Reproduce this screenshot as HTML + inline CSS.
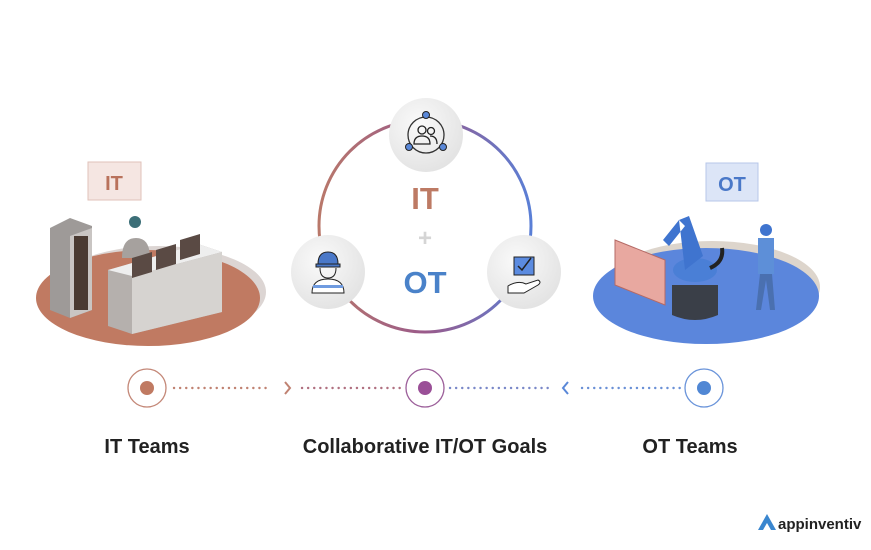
<!DOCTYPE html>
<html><head><meta charset="utf-8"><style>body{margin:0;background:#fff}svg{display:block}</style></head><body>
<svg width="871" height="550" viewBox="0 0 871 550" xmlns="http://www.w3.org/2000/svg" font-family="Liberation Sans, sans-serif">
<defs>
<linearGradient id="rg" x1="0" y1="0" x2="1" y2="0"><stop offset="0" stop-color="#b9786a"/><stop offset="0.5" stop-color="#9a5a8a"/><stop offset="1" stop-color="#5a7fd6"/></linearGradient>
<radialGradient id="ng" cx="0.4" cy="0.35" r="0.7"><stop offset="0" stop-color="#fafafa"/><stop offset="1" stop-color="#e2e2e2"/></radialGradient>
</defs>
<!-- ring -->
<circle cx="425" cy="226" r="106" fill="none" stroke="url(#rg)" stroke-width="3"/>
<text x="425" y="209" text-anchor="middle" font-size="31" font-weight="bold" fill="#bd7a64">IT</text>
<text x="425" y="246" text-anchor="middle" font-size="24" font-weight="bold" fill="#d5d5d5">+</text>
<text x="425" y="293" text-anchor="middle" font-size="31" font-weight="bold" fill="#4a82c9">OT</text>
<!-- nodes -->
<g><circle cx="426" cy="135" r="37" fill="url(#ng)"/>
<circle cx="426" cy="135" r="18" fill="none" stroke="#333" stroke-width="1.3"/>
<circle cx="426" cy="115" r="3.5" fill="#5a88d8" stroke="#222"/><circle cx="409" cy="147" r="3.5" fill="#5a88d8" stroke="#222"/><circle cx="443" cy="147" r="3.5" fill="#5a88d8" stroke="#222"/>
<circle cx="422" cy="130" r="4" fill="none" stroke="#222" stroke-width="1.3"/><circle cx="431" cy="131" r="3.5" fill="none" stroke="#222" stroke-width="1.3"/>
<path d="M414 144 q0-8 8-8 q8 0 8 8z M430 136 q7 0 7 8" fill="none" stroke="#222" stroke-width="1.3"/></g>
<g><circle cx="328" cy="272" r="37" fill="url(#ng)"/>
<path d="M318 264 q0-12 10-12 q10 0 10 12z" fill="#4a78c8" stroke="#222"/>
<rect x="316" y="264" width="24" height="3" fill="#4a78c8" stroke="#222"/>
<path d="M320 268 q0 10 8 10 q8 0 8-10" fill="none" stroke="#222"/>
<path d="M312 293 q0-14 16-14 q16 0 16 14z" fill="#fff" stroke="#222"/>
<rect x="313" y="285" width="30" height="3" fill="#6f9be0"/></g>
<g><circle cx="524" cy="272" r="37" fill="url(#ng)"/>
<rect x="514" y="257" width="20" height="18" fill="#5b8be0" stroke="#222"/>
<path d="M518 266 l4 4 l9-12" fill="none" stroke="#222" stroke-width="1.5"/>
<path d="M508 286 q10-6 18-2 l12-4 q4 2 0 5 l-14 8 h-16z" fill="#fff" stroke="#222"/></g>
<!-- IT scene -->
<ellipse cx="158" cy="292" rx="108" ry="46" fill="#dcd5d3"/>
<ellipse cx="148" cy="298" rx="112" ry="48" fill="#c07a62"/>
<rect x="88" y="162" width="53" height="38" fill="#f5e6e2" stroke="#e0c2ba"/>
<text x="114" y="190" text-anchor="middle" font-size="20" font-weight="bold" fill="#b9725c">IT</text>
<path d="M50 228 l20-10 l22 8 v84 l-22 8 l-20-8z" fill="#9e9a98"/>
<path d="M70 236 l22-8 v82 l-22 8z" fill="#c9c5c3"/>
<rect x="74" y="236" width="14" height="74" fill="#4a3a32"/>
<path d="M108 270 l90-26 l24 8 v60 l-90 22 l-24-8z" fill="#b5b0ad"/>
<path d="M108 270 l90-26 l24 8 l-90 24z" fill="#eeeeee"/>
<path d="M132 276 l90-24 v60 l-90 22z" fill="#d6d3d0"/>
<circle cx="135" cy="222" r="6" fill="#3c6f78"/><path d="M122 258 q0-20 14-20 q14 0 14 20z" fill="#a6a19e"/>
<path d="M132 258 l20-6 v20 l-20 6z M156 250 l20-6 v20 l-20 6z M180 240 l20-6 v20 l-20 6z" fill="#5a4a44"/>
<!-- OT scene -->
<ellipse cx="712" cy="287" rx="108" ry="46" fill="#ddd5cc"/>
<ellipse cx="706" cy="296" rx="113" ry="48" fill="#5b86dc"/>
<rect x="706" y="163" width="52" height="38" fill="#dce5f7" stroke="#b7c7ea"/>
<text x="732" y="191" text-anchor="middle" font-size="20" font-weight="bold" fill="#4a78c8">OT</text>
<path d="M615 240 l50 20 v45 l-50-20z" fill="#e8a8a0" stroke="#b56a66"/>
<path d="M672 285 h46 v30 q-23 10 -46 0z" fill="#3a3f48"/>
<ellipse cx="695" cy="270" rx="22" ry="12" fill="#4a7fd6"/>
<path d="M685 270 l-6-50 l10-4 l14 40z M679 220 l-16 20 l6 6 l16-20z" fill="#3f74cf"/>
<path d="M710 268 q14-6 12-20" fill="none" stroke="#222" stroke-width="4"/>
<circle cx="766" cy="230" r="6" fill="#3f74cf"/><rect x="758" y="238" width="16" height="36" fill="#5d8fd8"/>
<path d="M760 274 l-4 36 h5 l5-30 l4 30 h5 l-3-36z" fill="#4a70b0"/>
<!-- bottom flow -->
<g stroke-dasharray="0.1 6" stroke-width="2.4" stroke-linecap="round" fill="none">
<line x1="174" y1="388" x2="270" y2="388" stroke="#c08272"/>
<line x1="302" y1="388" x2="402" y2="388" stroke="#b07080"/>
<line x1="450" y1="388" x2="548" y2="388" stroke="#7a88c8"/>
<line x1="582" y1="388" x2="680" y2="388" stroke="#6a90d6"/></g>
<path d="M285 382 l5 6 l-5 6" fill="none" stroke="#c08272" stroke-width="2"/>
<path d="M568 382 l-5 6 l5 6" fill="none" stroke="#5a88d8" stroke-width="2"/>
<circle cx="147" cy="388" r="19" fill="#fff" stroke="#c48878" stroke-width="1.3"/><circle cx="147" cy="388" r="7" fill="#c07a62"/>
<circle cx="425" cy="388" r="19" fill="#fff" stroke="#9c5f9a" stroke-width="1.3"/><circle cx="425" cy="388" r="7" fill="#9a4f97"/>
<circle cx="704" cy="388" r="19" fill="#fff" stroke="#6a94da" stroke-width="1.3"/><circle cx="704" cy="388" r="7" fill="#5087d4"/>
<g font-size="20" font-weight="bold" fill="#222" text-anchor="middle">
<text x="147" y="453">IT Teams</text>
<text x="425" y="453">Collaborative IT/OT Goals</text>
<text x="690" y="453">OT Teams</text></g>
<path d="M758 530 l9-16 l9 16 l-5 0 l-4-7 l-4 7z" fill="#3a86cf"/>
<text x="778" y="529" font-size="15" font-weight="bold" fill="#222">appinventiv</text>
</svg>
</body></html>
